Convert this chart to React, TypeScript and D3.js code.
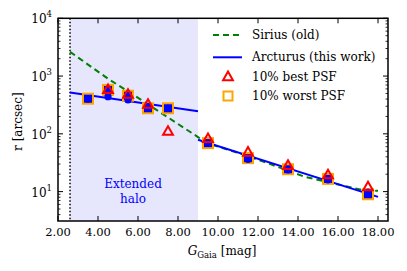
import React, { useEffect, useRef } from "react"
import * as d3 from "d3"

// data points (G mag) and measured radii
const magBins = [3.5, 4.5, 5.5, 6.5, 7.5, 9.5, 11.5, 13.5, 15.5, 17.5]
const rAll = [400, 440, 385, 300, 275, 69, 36, 23.7, 16, 9.8]
const rBest = [null, 570, 470, 316, 108, 81, 47, 27.7, 19, 11.8]
const rWorst = [406, 575, 457, 277, 277, 69, 38, 24.4, 16.6, 9.0]

// Sirius (old) relation
const siriusG = [2.6, 4.5, 6.1, 9.0, 9.5, 11.0, 12.5, 14.3, 17.2, 18.0]
const siriusR = [2630, 900, 400, 88, 68, 47, 31, 18.2, 10.7, 10.3]

// Arcturus (this work), two pieces
const arctInnerG = [2.6, 9.0]
const arctInnerR = [520, 245]
const arctOuterG = [9.0, 18.0]
const arctOuterR = [79, 8.1]

const xTicks = [2, 4, 6, 8, 10, 12, 14, 16, 18]
const yTicks = [10, 100, 1000, 10000]
const haloStart = 2.6
const haloEnd = 9.0

const FONT = "'DejaVu Serif', serif"

export default function App() {
  const ref = useRef<SVGSVGElement>(null)

  useEffect(() => {
    const svg = d3.select(ref.current)
    svg.selectAll("*").remove()

    const L = 58, R = 388, T = 18.3, B = 221
    const x = d3.scaleLinear().domain([2, 18.5]).range([L, R])
    const y = d3.scaleLog().domain([3.1, 1e4]).range([B, T])

    // shaded halo
    svg.append("rect")
      .attr("x", x(haloStart)).attr("y", T)
      .attr("width", x(haloEnd) - x(haloStart)).attr("height", B - T)
      .attr("fill", "#e6e6fd")

    // dotted line
    svg.append("line")
      .attr("x1", x(haloStart)).attr("x2", x(haloStart))
      .attr("y1", T).attr("y2", B)
      .attr("stroke", "black").attr("stroke-width", 1.5)
      .attr("stroke-dasharray", "1.5,2")

    svg.append("text")
      .attr("x", 133).attr("y", 188)
      .attr("text-anchor", "middle").attr("fill", "blue")
      .attr("font-family", FONT).attr("font-size", 12)
      .text("Extended")
    svg.append("text")
      .attr("x", 133).attr("y", 203)
      .attr("text-anchor", "middle").attr("fill", "blue")
      .attr("font-family", FONT).attr("font-size", 12)
      .text("halo")

    const line = d3.line<[number, number]>()
      .x(d => x(d[0])).y(d => y(d[1]))

    svg.append("path")
      .attr("d", line(siriusG.map((g, i) => [g, siriusR[i]])))
      .attr("fill", "none").attr("stroke", "green")
      .attr("stroke-width", 2).attr("stroke-dasharray", "6,4")

    const g = svg.append("g")
    g.append("path")
      .attr("d", line(arctInnerG.map((v, i) => [v, arctInnerR[i]])))
      .attr("fill", "none").attr("stroke", "blue").attr("stroke-width", 2)
    g.append("path")
      .attr("d", line(arctOuterG.map((v, i) => [v, arctOuterR[i]])))
      .attr("fill", "none").attr("stroke", "blue").attr("stroke-width", 2)

    const sq = 10
    // worst PSF squares
    svg.selectAll(".sq").data(magBins.map((m, i) => [m, rWorst[i]]))
      .join("rect")
      .attr("x", d => x(d[0]) - sq / 2).attr("y", d => y(d[1]) - sq / 2)
      .attr("width", sq).attr("height", sq)
      .attr("fill", "blue").attr("stroke", "orange").attr("stroke-width", 2)

    svg.selectAll(".dot").data(magBins.map((m, i) => [m, rAll[i]]))
      .join("circle")
      .attr("cx", d => x(d[0])).attr("cy", d => y(d[1])).attr("r", 3.6)
      .attr("fill", "blue")

    const tri = d3.symbol().type(d3.symbolTriangle).size(42)
    svg.selectAll(".tri")
      .data(magBins.map((m, i) => [m, rBest[i]]).filter(d => d[1] != null))
      .join("path")
      .attr("d", tri)
      .attr("transform", d => `translate(${x(d[0] as number)},${y(d[1] as number)})`)
      .attr("fill", "none").attr("stroke", "red").attr("stroke-width", 2)

    // frame
    svg.append("rect")
      .attr("x", L).attr("y", T).attr("width", R - L).attr("height", B - T)
      .attr("fill", "none").attr("stroke", "black").attr("stroke-width", 1.5)

    // x ticks
    xTicks.forEach(t => {
      svg.append("line").attr("x1", x(t)).attr("x2", x(t)).attr("y1", B).attr("y2", B - 5)
        .attr("stroke", "black").attr("stroke-width", 1)
      svg.append("line").attr("x1", x(t)).attr("x2", x(t)).attr("y1", T).attr("y2", T + 5)
        .attr("stroke", "black").attr("stroke-width", 1)
      svg.append("text").attr("x", x(t)).attr("y", 236)
        .attr("text-anchor", "middle").attr("font-family", FONT).attr("font-size", 11.5)
        .text(d3.format(".2f")(t))
    })

    // y ticks
    yTicks.forEach(t => {
      svg.append("line").attr("x1", L).attr("x2", L + 5).attr("y1", y(t)).attr("y2", y(t))
        .attr("stroke", "black")
      svg.append("line").attr("x1", R).attr("x2", R - 5).attr("y1", y(t)).attr("y2", y(t))
        .attr("stroke", "black")
      const tx = svg.append("text").attr("x", 52).attr("y", y(t) + 5)
        .attr("text-anchor", "end").attr("font-family", FONT).attr("font-size", 12)
      tx.append("tspan").text("10")
      tx.append("tspan").attr("dy", -6).attr("font-size", 8.5).text(String(Math.round(Math.log10(t))))
    })
    const minor: number[] = []
    ;[1, 10, 100, 1000].forEach(d => {
      for (let k = 2; k <= 9; k++) {
        const v = d * k
        if (v > 3.1 && v < 1e4) minor.push(v)
      }
    })
    minor.forEach(t => {
      svg.append("line").attr("x1", L).attr("x2", L + 2.5).attr("y1", y(t)).attr("y2", y(t))
        .attr("stroke", "black").attr("stroke-width", 0.8)
      svg.append("line").attr("x1", R).attr("x2", R - 2.5).attr("y1", y(t)).attr("y2", y(t))
        .attr("stroke", "black").attr("stroke-width", 0.8)
    })

    // axis labels
    svg.append("text")
      .attr("transform", `translate(22,${(T + B) / 2 + 2}) rotate(-90)`)
      .attr("text-anchor", "middle").attr("font-family", FONT).attr("font-size", 12)
      .text("r [arcsec]")
    const xl = svg.append("text").attr("x", 222).attr("y", 255)
      .attr("text-anchor", "middle").attr("font-family", FONT).attr("font-size", 12)
    xl.append("tspan").attr("font-style", "italic").text("G")
    xl.append("tspan").attr("dy", 3).attr("font-size", 8.5).text("Gaia")
    xl.append("tspan").attr("dy", -3).text(" [mag]")

    // legend
    const lg = svg.append("g").attr("font-family", FONT).attr("font-size", 12)
    const rows = [35, 57.3, 77.3, 96]
    lg.append("line").attr("x1", 213).attr("x2", 242).attr("y1", rows[0]).attr("y2", rows[0])
      .attr("stroke", "green").attr("stroke-width", 2).attr("stroke-dasharray", "6,4")
    lg.append("line").attr("x1", 213).attr("x2", 242).attr("y1", rows[1]).attr("y2", rows[1])
      .attr("stroke", "blue").attr("stroke-width", 2)
    lg.append("path").attr("d", tri).attr("transform", `translate(228,${rows[2]})`)
      .attr("fill", "none").attr("stroke", "red").attr("stroke-width", 2)
    lg.append("rect").attr("x", 228 - 4.5).attr("y", rows[3] - 4.5).attr("width", 9).attr("height", 9)
      .attr("fill", "white").attr("stroke", "orange").attr("stroke-width", 2)
    const labels = ["Sirius (old)", "Arcturus (this work)", "10% best PSF", "10% worst PSF"]
    labels.forEach((s, i) => {
      lg.append("text").attr("x", 252).attr("y", rows[i] + 4).text(s)
    })
  }, [])

  return (
    <div style={{ position: "absolute", left: 0, top: 0 }}>
      <svg ref={ref} width={407} height={271} style={{ display: "block", background: "white" }} />
    </div>
  )
}
